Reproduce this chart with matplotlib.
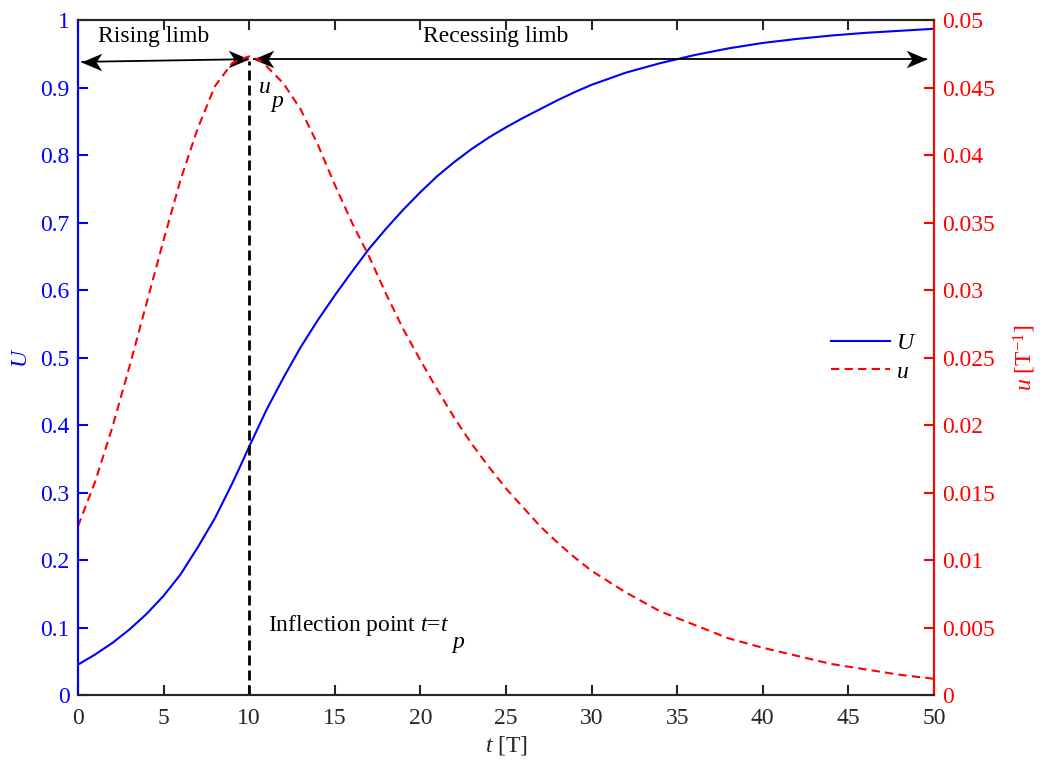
import numpy as np
import matplotlib
matplotlib.use('Agg')
import matplotlib.pyplot as plt
from matplotlib.path import Path

# values
t = [0, 1, 2, 3, 4, 5, 6, 7, 8, 9, 9.5, 10, 10.5, 11, 12, 13, 14, 15, 16, 17, 18, 19, 20,
     21, 22, 23, 24, 25, 26, 27, 28, 29, 30, 32, 34, 36, 38, 40, 42, 44, 46, 48, 50]
U = [0.045, 0.060, 0.077, 0.097, 0.120, 0.147, 0.179, 0.219, 0.262, 0.313, 0.340, 0.368,
     0.395, 0.422, 0.470, 0.515, 0.555, 0.592, 0.627, 0.661, 0.691, 0.719, 0.745,
     0.769, 0.790, 0.809, 0.826, 0.841, 0.855, 0.868, 0.881, 0.893, 0.904, 0.922,
     0.936, 0.948, 0.958, 0.966, 0.972, 0.977, 0.981, 0.984, 0.987]
u = [0.0125, 0.0158, 0.0198, 0.0243, 0.0290, 0.0337, 0.0382, 0.0420, 0.0451, 0.0468, 0.0471, 0.0473,
     0.0471, 0.0466, 0.0453, 0.0434, 0.0408, 0.0378, 0.0350, 0.0325, 0.0297, 0.0271, 0.0248,
     0.0226, 0.0205, 0.0186, 0.0169, 0.0153, 0.0139, 0.0125, 0.0113, 0.0102, 0.0092, 0.0076,
     0.0062, 0.0052, 0.0042, 0.0035, 0.0029, 0.0023, 0.0019, 0.0015, 0.0012]
t_p = 10
U_top = 0.94

plt.rcParams['font.family'] = ['Liberation Serif', 'DejaVu Serif']
plt.rcParams['mathtext.fontset'] = 'custom'
plt.rcParams['mathtext.rm'] = 'Liberation Serif'
plt.rcParams['mathtext.it'] = 'Liberation Serif:italic'
fs = 17
plt.rcParams['font.size'] = fs

fig = plt.figure(figsize=(10.4, 7.64), dpi=100)
ax = fig.add_axes([0.075, 0.0903, 0.823, 0.8835])
ax2 = ax.twinx()

dark = '#262626'
l1, = ax.plot(t, U, color='blue', lw=1.5, label='$U$')
l2, = ax2.plot(t, u, color='red', lw=1.5, ls=(0, (4, 2.5)), label='$u$')
ax.plot([t_p, t_p], [0, U_top], color='black', lw=2, ls=(0, (3.6, 1.8)))

ax.set_xlim(0, 50)
ax.set_ylim(0, 1)
ax2.set_ylim(0, 0.05)
ax.set_xticks(np.arange(0, 51, 5))
ax.set_yticks(np.arange(0, 1.01, 0.1))
ax.set_yticklabels(['0', '0.1', '0.2', '0.3', '0.4', '0.5', '0.6', '0.7', '0.8', '0.9', '1'])
ax2.set_yticks(np.arange(0, 0.0501, 0.005))
ax2.set_yticklabels(['0', '0.005', '0.01', '0.015', '0.02', '0.025', '0.03',
                     '0.035', '0.04', '0.045', '0.05'])

for a in (ax, ax2):
    for s in a.spines.values():
        s.set_linewidth(1.5)
        s.set_color(dark)
ax2.spines['left'].set_color('blue')
ax2.spines['right'].set_color('red')

ax.tick_params(axis='x', direction='in', length=7, width=1.5, colors=dark,
               top=True, pad=9, labelsize=fs)
ax.tick_params(axis='y', direction='in', length=7, width=1.5, colors='blue',
               pad=6, labelsize=fs)
ax2.tick_params(axis='y', direction='in', length=7, width=1.5, colors='red',
                pad=6, labelsize=fs)

ax.set_xlabel('$t$ [T]', color=dark, fontsize=fs, labelpad=4)
ax.set_ylabel('$U$', color='blue', fontsize=fs, labelpad=6)
ax2.set_ylabel('$u$ [T$^{-1}$]', color='red', fontsize=fs, labelpad=12)

# arrows with concave-back heads
head = Path([(0, 0), (-1, 0.42), (-0.72, 0), (-1, -0.42), (0, 0)],
            [Path.MOVETO, Path.LINETO, Path.LINETO, Path.LINETO, Path.CLOSEPOLY])
head_l = head.transformed(matplotlib.transforms.Affine2D().rotate_deg(180))


def darrow(x0, y0, x1, y1):
    ax.plot([x0, x1], [y0, y1], color='black', lw=1.3, solid_capstyle='butt')
    ax.plot([x0], [y0], marker=head_l, ms=30, color='black', mec='black', mew=0)
    ax.plot([x1], [y1], marker=head, ms=30, color='black', mec='black', mew=0)


darrow(0.2, 0.938, 9.97, 0.942)
darrow(10.2, 0.942, 49.6, 0.942)

ax.text(4.4, 0.975, 'Rising limb', ha='center', va='center', fontsize=fs)
ax.text(24.4, 0.975, 'Recessing limb', ha='center', va='center', fontsize=fs)

up = ax.text(10.5, 0.90, '$u$', ha='left', va='center', fontsize=fs)
ax.annotate('$p$', xy=(1, 0), xycoords=up, xytext=(-1, 5), textcoords='offset pixels',
            ha='left', va='top', fontsize=fs)
infl = ax.text(11.08, 0.0948, 'Inflection point $t$=$t$', ha='left', va='baseline',
               fontsize=fs)
ax.annotate('$p$', xy=(1, 0), xycoords=infl, xytext=(2, 4), textcoords='offset pixels',
            ha='left', va='top', fontsize=fs)

leg = ax.legend(handles=[l1, l2], loc='center left', bbox_to_anchor=(0.855, 0.5),
                frameon=False, fontsize=fs, handlelength=2.5, handletextpad=0.25,
                labelspacing=0.3)

fig.savefig('out.png', dpi=100)
